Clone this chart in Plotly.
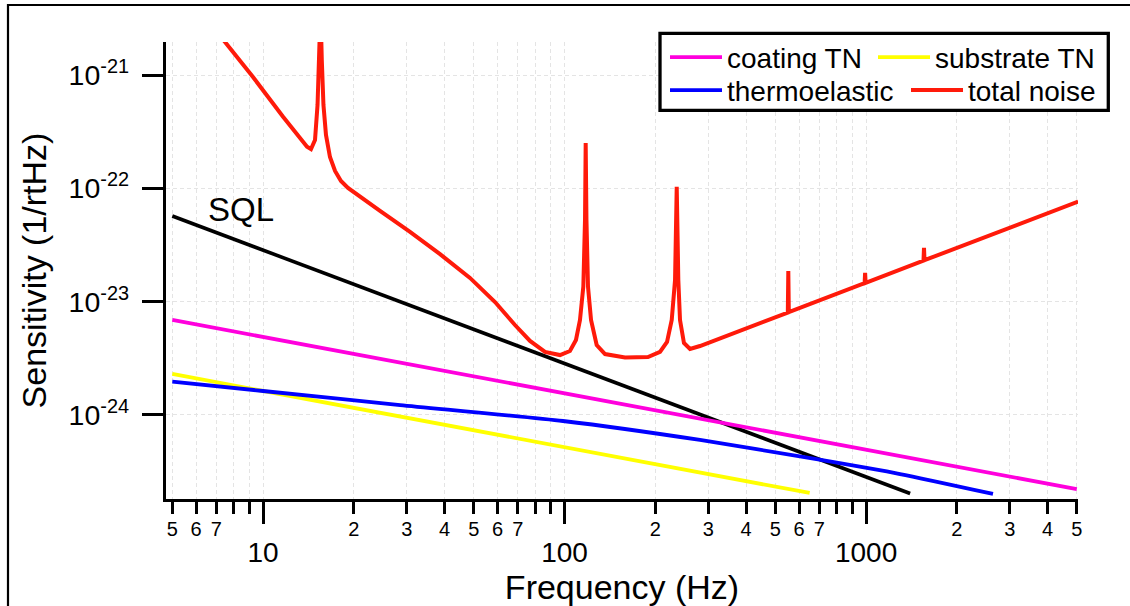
import numpy as np
import plotly.graph_objects as go

# ---------------- data ----------------
freq_sql = [5, 1400]
sens_sql = [5.7e-23, 2.03e-25]

freq_coating = [5, 5000]
sens_coating = [6.9e-24, 2.22e-25]

freq_substrate = [5, 650]
sens_substrate = [2.3e-24, 2.05e-25]

freq_thermo = [5, 10.0, 28.5, 98.8, 281.3, 677, 1296, 2636]
sens_thermo = [1.97e-24, 1.628e-24, 1.224e-24, 8.85e-25, 6.02e-25, 4.09e-25, 3.01e-25, 2.01e-25]

freq_total = [7.14, 9.26, 11.65, 13.26, 13.99, 14.42, 14.87, 15.16, 15.36, 15.51,
              15.66, 15.86, 16.17, 16.67, 17.33, 18.13, 19.13, 20.34, 24.43, 30.72,
              38.63, 48.57, 58.80, 68.48, 76.80, 86.12, 96.57, 104.2, 109.1, 112.5,
              115.4, 116.9, 117.5, 118.2, 119.6, 122.4, 127.8, 136.2, 158.7, 189.1,
              207.3, 218.7, 226.7, 232.5, 235.5, 238.4, 241.5, 248.9, 260.7, 281.3,
              550.1, 552.2, 554.3, 988.9, 992.7, 996.5, 1550.5, 1556.4, 1562.4, 5050]
sens_total = [2.28e-21, 9.60e-22, 4.29e-22, 2.78e-22, 2.33e-22, 2.22e-22, 2.67e-22, 5.44e-22, 1.36e-21, 3.75e-21,
              1.36e-21, 5.44e-22, 2.96e-22, 1.89e-22, 1.422e-22, 1.161e-22, 1.007e-22, 8.91e-23, 6.31e-23, 4.12e-23,
              2.63e-23, 1.62e-23, 9.93e-24, 6.22e-24, 4.50e-24, 3.60e-24, 3.38e-24, 3.67e-24, 4.59e-24, 6.89e-24,
              1.355e-23, 5.25e-23, 2.51e-22, 5.25e-23, 1.355e-23, 6.89e-24, 4.14e-24, 3.45e-24, 3.22e-24, 3.25e-24,
              3.60e-24, 4.41e-24, 6.89e-24, 1.55e-23, 1.033e-22, 1.55e-23, 6.89e-24, 4.32e-24, 3.82e-24, 4.06e-24,
              8.02e-24, 1.864e-23, 8.09e-24, 1.458e-23, 1.80e-23, 1.467e-23, 2.30e-23, 2.99e-23, 2.32e-23, 7.64e-23]

x_major = [10, 100, 1000]
x_major_text = ["10", "100", "1000"]
x_minor = [5, 6, 7, 8, 9, 20, 30, 40, 50, 60, 70, 80, 90,
           200, 300, 400, 500, 600, 700, 800, 900, 2000, 3000, 4000, 5000]
x_minor_labelled = [5, 6, 7, 20, 30, 40, 50, 60, 70, 200, 300, 400, 500, 600, 700,
                    2000, 3000, 4000, 5000]
x_minor_text = ["5", "6", "7", "2", "3", "4", "5", "6", "7", "2", "3", "4", "5", "6", "7",
                "2", "3", "4", "5"]
y_ticks = [1e-21, 1e-22, 1e-23, 1e-24]
y_text = ["10<sup>-21</sup>", "10<sup>-22</sup>", "10<sup>-23</sup>", "10<sup>-24</sup>"]

sql_label = "SQL"
sql_label_pos = (8.42, 6.44e-23)

# ---------------- styling ----------------
FONT = "Liberation Sans, Arial, Helvetica, sans-serif"
GRID = "#e4e4e4"
DASH = "4px,3px"
AXW = 3.4
x_range = [0.6781, 3.7029]
y_range = [-24.7413, -20.7088]

fig = go.Figure()
fig.add_trace(go.Scatter(x=freq_sql, y=sens_sql, mode="lines", name="SQL",
                         line=dict(color="black", width=3.6), showlegend=False))
fig.add_trace(go.Scatter(x=freq_coating, y=sens_coating, mode="lines", name="coating TN",
                         line=dict(color="#ff00dd", width=3.8), legend="legend",
                         legendwidth=141))
fig.add_trace(go.Scatter(x=freq_substrate, y=sens_substrate, mode="lines", name="substrate TN",
                         line=dict(color="#ffff00", width=3.8), legend="legend",
                         legendwidth=170))
fig.add_trace(go.Scatter(x=freq_thermo, y=sens_thermo, mode="lines", name="thermoelastic",
                         line=dict(color="#0000ff", width=3.8, shape="spline", smoothing=0.6),
                         legend="legend2", legendwidth=174))
fig.add_trace(go.Scatter(x=freq_total, y=sens_total, mode="lines", name="total noise",
                         line=dict(color="#ff1a0a", width=4.0), legend="legend2",
                         legendwidth=140))
# invisible helper so that the overlaid label axis is drawn
fig.add_trace(go.Scatter(x=[10], y=[1e-30], xaxis="x2", yaxis="y", mode="markers",
                         marker=dict(opacity=0), showlegend=False, hoverinfo="skip"))

fig.update_layout(
    width=1130, height=606,
    margin=dict(l=166, r=52, t=42, b=107, autoexpand=False),
    paper_bgcolor="white", plot_bgcolor="white",
    font=dict(family=FONT, color="black"),
    xaxis=dict(type="log", range=x_range, showline=True, linecolor="black", linewidth=AXW,
               tickvals=x_major, ticktext=x_major_text, ticks="outside", ticklen=22,
               tickwidth=AXW, tickcolor="black", tickfont=dict(size=28), ticklabelstandoff=4,
               showgrid=True, gridcolor=GRID, gridwidth=1, griddash=DASH, zeroline=False,
               minor=dict(tickvals=x_minor, ticks="outside", ticklen=12, tickwidth=AXW,
                          tickcolor="black", showgrid=True, gridcolor=GRID, gridwidth=1,
                          griddash=DASH),
               title=dict(text="Frequency (Hz)", font=dict(size=34), standoff=5),
               automargin=False),
    xaxis2=dict(type="log", range=x_range, overlaying="x", anchor="y", side="bottom",
                tickvals=x_minor_labelled, ticktext=x_minor_text, ticks="", showline=False,
                showgrid=False, zeroline=False, tickfont=dict(size=20),
                ticklabelstandoff=16, automargin=False),
    yaxis=dict(type="log", range=y_range, showline=True, linecolor="black", linewidth=AXW,
               tickvals=y_ticks, ticktext=y_text, ticks="outside", ticklen=21, tickwidth=AXW,
               tickcolor="black", tickfont=dict(size=28.5), ticklabelstandoff=7,
               showgrid=True, gridcolor=GRID, gridwidth=1, griddash=DASH, zeroline=False,
               title=dict(text="Sensitivity (1/rtHz)", font=dict(size=34), standoff=12),
               automargin=False),
    legend=dict(orientation="h", x=0.54715, y=1.021, xanchor="left", yanchor="top",
                bgcolor="rgba(0,0,0,0)", borderwidth=0, font=dict(size=28),
                itemwidth=52),
    legend2=dict(orientation="h", x=0.54715, y=0.9488, xanchor="left", yanchor="top",
                 bgcolor="rgba(0,0,0,0)", borderwidth=0, font=dict(size=28),
                 itemwidth=52),
    shapes=[
        # legend frame
        dict(type="rect", xref="paper", yref="paper", x0=0.54167, x1=1.03322,
             y0=0.85055, y1=1.01904, line=dict(color="black", width=3.3),
             fillcolor="white", layer="above"),
        # outer picture frame
        dict(type="rect", xref="paper", yref="paper", x0=-0.17325, x1=1.3,
             y0=-0.5, y1=1.08096, line=dict(color="black", width=2.2),
             fillcolor="rgba(0,0,0,0)", layer="above"),
    ],
    annotations=[
        dict(text=sql_label, x=np.log10(sql_label_pos[0]), y=np.log10(sql_label_pos[1]),
             xref="x", yref="y", showarrow=False, font=dict(size=33, color="black"),
             xanchor="center", yanchor="middle"),
    ],
)

fig.write_html("out.html", config={"displayModeBar": False},
               post_script="document.body.style.margin='0px';")
